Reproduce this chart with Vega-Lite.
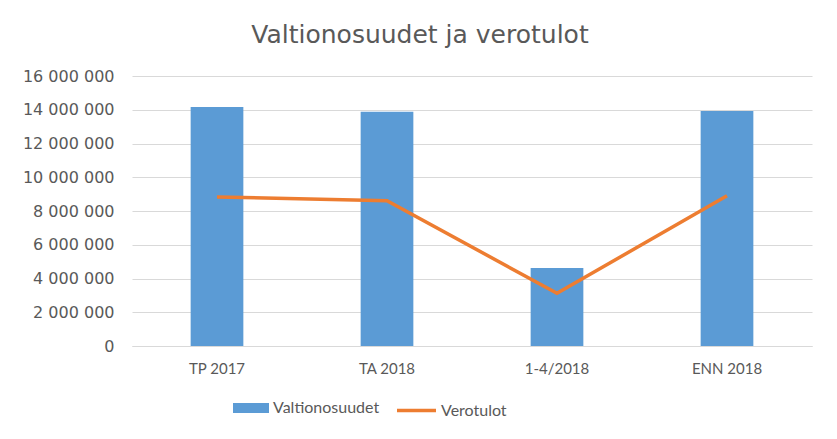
{
  "$schema": "https://vega.github.io/schema/vega-lite/v6.json",
  "width": 680,
  "height": 270,
  "autosize": "none",
  "padding": {"left": 132, "top": 76, "right": 25, "bottom": 93},
  "background": "white",
  "title": {
    "text": "Valtionosuudet ja verotulot",
    "anchor": "middle",
    "dx": -52,
    "offset": 20,
    "fontSize": 25,
    "font": "DejaVu Sans",
    "fontWeight": "normal",
    "color": "#595959"
  },
  "data": {
    "values": [
      {"kausi": "TP 2017", "Valtionosuudet": 14160000, "Verotulot": 8830000},
      {"kausi": "TA 2018", "Valtionosuudet": 13880000, "Verotulot": 8610000},
      {"kausi": "1-4/2018", "Valtionosuudet": 4620000, "Verotulot": 3120000},
      {"kausi": "ENN 2018", "Valtionosuudet": 13930000, "Verotulot": 8910000}
    ]
  },
  "encoding": {
    "x": {
      "field": "kausi",
      "type": "nominal",
      "sort": null,
      "scale": {"paddingInner": 0.69, "paddingOuter": 0.345},
      "axis": {
        "title": null,
        "labelAngle": 0,
        "ticks": false,
        "domainColor": "#d9d9d9",
        "labelPadding": 15
      }
    }
  },
  "layer": [
    {
      "mark": {"type": "bar"},
      "encoding": {
        "y": {
          "field": "Valtionosuudet",
          "type": "quantitative",
          "scale": {"domain": [0, 16000000]},
          "axis": {
            "title": null,
            "values": [0, 2000000, 4000000, 6000000, 8000000, 10000000, 12000000, 14000000, 16000000],
            "labelExpr": "replace(format(datum.value, ','), /,/g, ' ')",
            "labelOverlap": false
          }
        },
        "fill": {
          "datum": "Valtionosuudet",
          "scale": {"range": ["#5B9BD5"]},
          "legend": {
            "title": null,
            "orient": "none",
            "legendX": 101,
            "legendY": 314,
            "symbolType": "M-1,-0.28H1V0.28H-1Z",
            "symbolSize": 1296,
            "symbolStrokeWidth": 0,
            "labelOffset": 4
          }
        }
      }
    },
    {
      "mark": {"type": "line", "strokeWidth": 3.5},
      "encoding": {
        "y": {
          "field": "Verotulot",
          "type": "quantitative",
          "scale": {"domain": [0, 16000000]},
          "axis": {
            "title": null,
            "values": [0, 2000000, 4000000, 6000000, 8000000, 10000000, 12000000, 14000000, 16000000],
            "labelExpr": "replace(format(datum.value, ','), /,/g, ' ')",
            "labelOverlap": false
          }
        },
        "stroke": {
          "datum": "Verotulot",
          "scale": {"range": ["#ED7D31"]},
          "legend": {
            "title": null,
            "orient": "none",
            "legendX": 263,
            "legendY": 313,
            "symbolType": "stroke",
            "symbolSize": 1521,
            "symbolStrokeWidth": 3.5,
            "labelOffset": 3
          }
        }
      }
    }
  ],
  "config": {
    "view": {"stroke": null},
    "font": "Lato",
    "axisY": {
      "domain": false,
      "ticks": false,
      "gridColor": "#d9d9d9",
      "labelFont": "DejaVu Sans",
      "labelFontSize": 16,
      "labelColor": "#595959",
      "labelPadding": 18
    },
    "axisX": {
      "labelFont": "Lato",
      "labelFontSize": 15,
      "labelColor": "#595959"
    },
    "legend": {
      "labelFont": "Lato",
      "labelFontSize": 16,
      "labelColor": "#595959"
    }
  }
}
